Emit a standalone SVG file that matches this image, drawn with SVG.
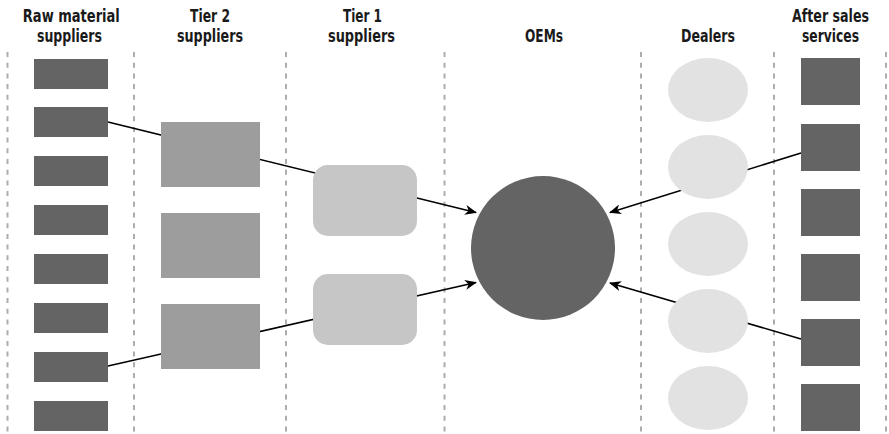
<svg xmlns="http://www.w3.org/2000/svg" width="889" height="434" viewBox="0 0 889 434">
  <style>
    .hdr { font-family: "DejaVu Sans Condensed", "DejaVu Sans", sans-serif; font-weight: bold; font-stretch: condensed; font-size: 17.5px; fill: #1a1a1a; text-anchor: middle; }
    .lane { stroke: #adadad; stroke-width: 2; stroke-dasharray: 5 5.7; fill: none; }
    .raw { fill: #646464; }
    .tier2 { fill: #9d9d9d; }
    .tier1 { fill: #c6c6c6; }
    .oem { fill: #646464; }
    .dealer { fill: #e2e2e2; }
    .svc { fill: #646464; }
    .link { stroke: #000; stroke-width: 1.5; fill: none; }
  </style>
  <defs>
    <marker id="arrow" viewBox="0 0 12 10" refX="11" refY="5" markerWidth="12" markerHeight="10" markerUnits="userSpaceOnUse" orient="auto">
      <path d="M0,0 L12,5 L0,10 L3.5,5 z" fill="#000"/>
    </marker>
  </defs>

  <rect width="889" height="434" fill="#fff"/>

  <!-- column headers -->
  <g id="headers">
    <text class="hdr" x="71.3" y="22" textLength="97" lengthAdjust="spacingAndGlyphs">Raw material</text>
    <text class="hdr" x="69.5" y="42" textLength="65" lengthAdjust="spacingAndGlyphs">suppliers</text>
    <text class="hdr" x="210" y="22" textLength="40" lengthAdjust="spacingAndGlyphs">Tier 2</text>
    <text class="hdr" x="210" y="42" textLength="66" lengthAdjust="spacingAndGlyphs">suppliers</text>
    <text class="hdr" x="362.5" y="22" textLength="39" lengthAdjust="spacingAndGlyphs">Tier 1</text>
    <text class="hdr" x="361.5" y="42" textLength="67" lengthAdjust="spacingAndGlyphs">suppliers</text>
    <text class="hdr" x="544" y="42" textLength="38" lengthAdjust="spacingAndGlyphs">OEMs</text>
    <text class="hdr" x="708" y="42" textLength="54" lengthAdjust="spacingAndGlyphs">Dealers</text>
    <text class="hdr" x="830.5" y="22" textLength="77" lengthAdjust="spacingAndGlyphs">After sales</text>
    <text class="hdr" x="830.5" y="42" textLength="57" lengthAdjust="spacingAndGlyphs">services</text>
  </g>

  <!-- lane separators -->
  <g id="lanes">
    <line class="lane" x1="7.5" y1="52" x2="7.5" y2="434"/>
    <line class="lane" x1="134" y1="52" x2="134" y2="434"/>
    <line class="lane" x1="286" y1="52" x2="286" y2="434"/>
    <line class="lane" x1="444.5" y1="52" x2="444.5" y2="434"/>
    <line class="lane" x1="641" y1="52" x2="641" y2="434"/>
    <line class="lane" x1="774" y1="52" x2="774" y2="434"/>
    <line class="lane" x1="886" y1="52" x2="886" y2="434"/>
  </g>

  <!-- connectors (drawn beneath the nodes) -->
  <g id="connectors">
    <line class="link" x1="108" y1="122" x2="476" y2="212.5" marker-end="url(#arrow)"/>
    <line class="link" x1="108" y1="366" x2="476" y2="282.5" marker-end="url(#arrow)"/>
    <line class="link" x1="801" y1="153" x2="610" y2="212.5" marker-end="url(#arrow)"/>
    <line class="link" x1="801" y1="339" x2="610" y2="283" marker-end="url(#arrow)"/>
  </g>

  <!-- raw material suppliers -->
  <g id="raw-1"><rect class="raw" x="34" y="59" width="74" height="30"/></g>
  <g id="raw-2"><rect class="raw" x="34" y="107" width="74" height="30"/></g>
  <g id="raw-3"><rect class="raw" x="34" y="156" width="74" height="30"/></g>
  <g id="raw-4"><rect class="raw" x="34" y="205" width="74" height="30"/></g>
  <g id="raw-5"><rect class="raw" x="34" y="254" width="74" height="30"/></g>
  <g id="raw-6"><rect class="raw" x="34" y="303" width="74" height="30"/></g>
  <g id="raw-7"><rect class="raw" x="34" y="352" width="74" height="30"/></g>
  <g id="raw-8"><rect class="raw" x="34" y="401" width="74" height="30"/></g>

  <!-- tier 2 suppliers -->
  <g id="tier2-1"><rect class="tier2" x="161" y="122" width="99" height="65"/></g>
  <g id="tier2-2"><rect class="tier2" x="161" y="213" width="99" height="65"/></g>
  <g id="tier2-3"><rect class="tier2" x="161" y="304" width="99" height="65"/></g>

  <!-- tier 1 suppliers -->
  <g id="tier1-1"><rect class="tier1" x="313" y="165" width="104" height="71" rx="15" ry="15"/></g>
  <g id="tier1-2"><rect class="tier1" x="313" y="274" width="104" height="71" rx="15" ry="15"/></g>

  <!-- OEM -->
  <g id="oem"><circle class="oem" cx="543" cy="248" r="72"/></g>

  <!-- dealers -->
  <g id="dealer-1"><ellipse class="dealer" cx="708" cy="90" rx="40" ry="32"/></g>
  <g id="dealer-2"><ellipse class="dealer" cx="708" cy="167" rx="40" ry="32"/></g>
  <g id="dealer-3"><ellipse class="dealer" cx="708" cy="244" rx="40" ry="32"/></g>
  <g id="dealer-4"><ellipse class="dealer" cx="708" cy="321" rx="40" ry="32"/></g>
  <g id="dealer-5"><ellipse class="dealer" cx="708" cy="398" rx="40" ry="32"/></g>

  <!-- after sales services -->
  <g id="svc-1"><rect class="svc" x="801" y="58" width="59" height="47"/></g>
  <g id="svc-2"><rect class="svc" x="801" y="124" width="59" height="47"/></g>
  <g id="svc-3"><rect class="svc" x="801" y="189" width="59" height="47"/></g>
  <g id="svc-4"><rect class="svc" x="801" y="254" width="59" height="47"/></g>
  <g id="svc-5"><rect class="svc" x="801" y="319" width="59" height="47"/></g>
  <g id="svc-6"><rect class="svc" x="801" y="384" width="59" height="47"/></g>
</svg>
